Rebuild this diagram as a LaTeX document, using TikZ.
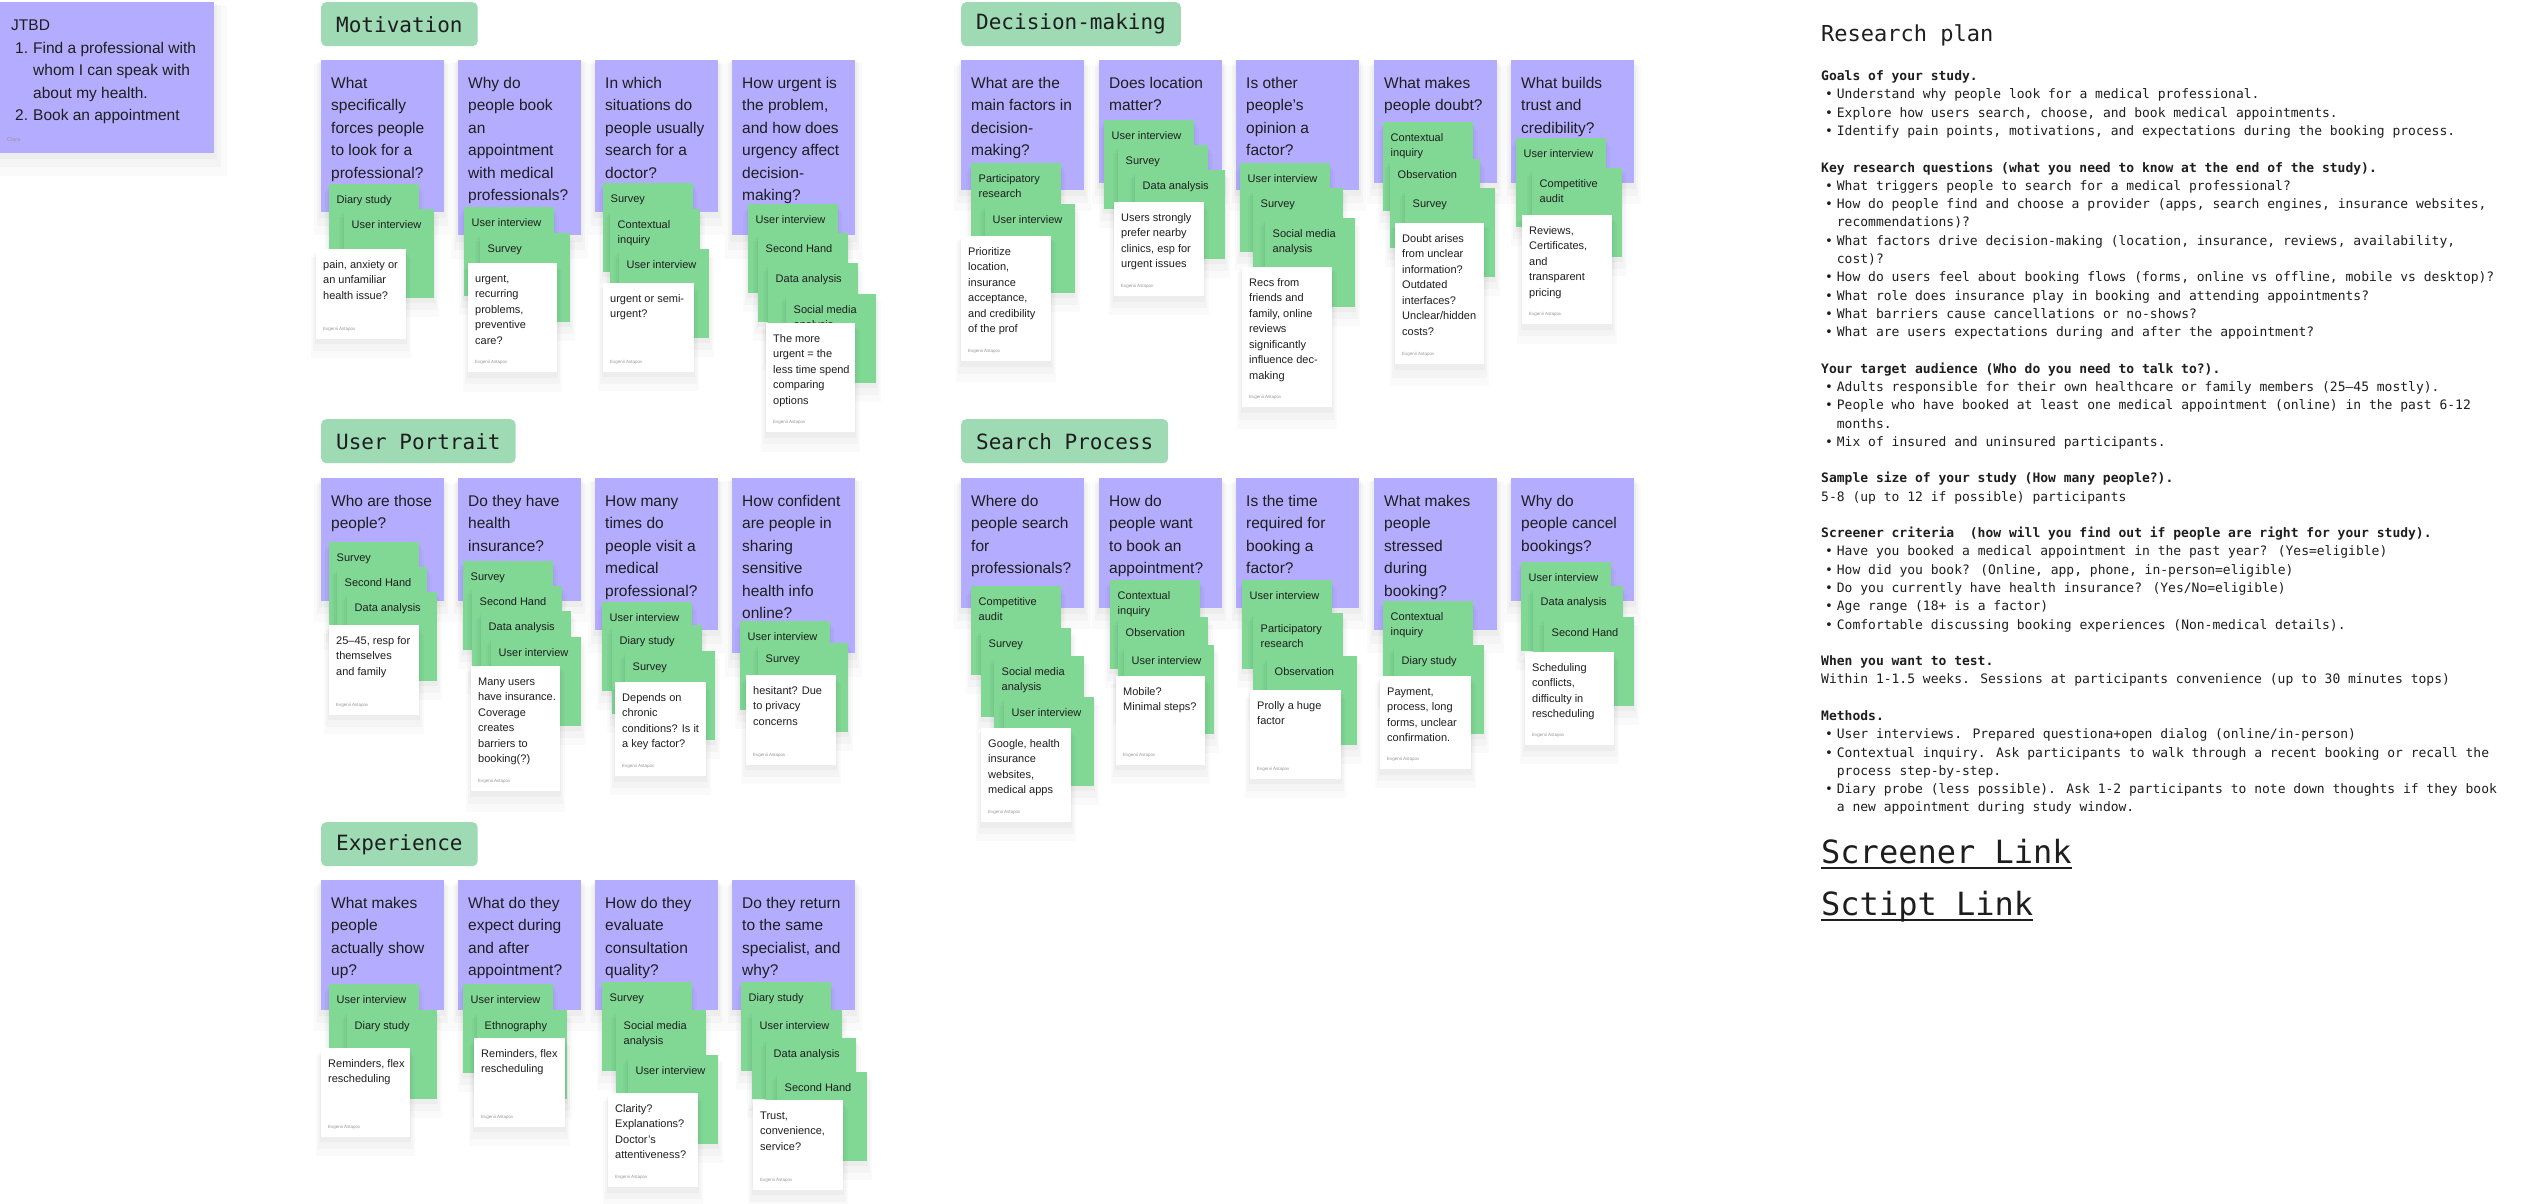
\documentclass[tikz,border=0pt]{standalone}
\usepackage{fontspec}
\setmainfont{Liberation Sans}
\newfontfamily\monof{DejaVu Sans Mono}
\usetikzlibrary{shadows}
\definecolor{qpurple}{RGB}{180,173,255}
\definecolor{mgreen}{RGB}{128,216,148}
\definecolor{hgreen}{RGB}{158,218,180}
\definecolor{ink}{RGB}{30,30,30}
\definecolor{authorgray}{RGB}{150,150,150}
\newcommand\rpb{\makebox[15.7pt][c]{•}}
\newcommand\rpi{\hspace*{15.7pt}}
\tikzset{
  soft/.style={general shadow={fill=black, opacity=0.018, shadow yshift=-12pt, shadow scale=1.12},
               general shadow={fill=black, opacity=0.022, shadow yshift=-8pt, shadow scale=1.07},
               general shadow={fill=black, opacity=0.028, shadow yshift=-4pt, shadow scale=1.03}},
  card/.style={rectangle, inner sep=0pt, outer sep=0pt, anchor=north west},
  qcard/.style={card, fill=qpurple, minimum width=123pt, soft},
  gcard/.style={card, fill=mgreen, minimum width=90pt, minimum height=89pt, soft},
  wcard/.style={card, fill=white, soft},
  ctext/.style={anchor=north west, inner sep=0pt, align=left, text=ink},
  qtext/.style={ctext, font=\fontsize{15.5}{22.5}\selectfont},
  gtext/.style={ctext, font=\fontsize{11}{15.4}\selectfont},
  wtext/.style={ctext, font=\fontsize{11}{15.5}\selectfont},
  author/.style={anchor=base west, inner sep=0pt, text=authorgray, font=\fontsize{4.5}{5}\selectfont},
  header/.style={anchor=north west, fill=hgreen, rounded corners=5pt, minimum height=44pt,
                 inner xsep=15pt, inner ysep=0pt, text=ink, font=\monof\fontsize{21}{25}\selectfont},
  rptext/.style={inner sep=0pt, text=ink, align=left},
}
% question card: name, x, y, height, text
\newcommand\mkq[5]{%
  \node[qcard, minimum height=#4pt] (#1) at (#2,#3) {};
  \node[qtext] (#1t) at ([xshift=10pt,yshift=-12.25pt]#1.north west) {\strut #5};}
% method card: name, x, y, text
\newcommand\mkg[4]{%
  \node[gcard] (#1) at (#2,#3) {};
  \node[gtext] (#1t) at ([xshift=7.5pt,yshift=-8.2pt]#1.north west) {\strut #4};}
% answer card: name, x, y, w, h, text
\newcommand\mkw[6]{%
  \node[wcard, minimum width=#4pt, minimum height=#5pt] (#1) at (#2,#3) {};
  \node[wtext] (#1t) at ([xshift=7pt,yshift=-8.2pt]#1.north west) {\strut #6};
  \node[author] (#1a) at ([xshift=7pt,yshift=9pt]#1.south west) {Evgenii Astapov};}
\begin{document}
\begin{tikzpicture}[x=1pt,y=-1pt]
\fill[white] (0,0) rectangle (2541,1203);
\useasboundingbox (0,0) rectangle (2541,1203);

% JTBD
\node[qcard, minimum width=214pt, minimum height=151pt] (jtbd) at (0,2) {};
\node[qtext] (jtbdt) at ([xshift=11pt,yshift=-13pt]jtbd.north west) {\strut JTBD\\\hspace*{4pt}\makebox[18pt][l]{1.}Find a professional with\\\hspace*{22pt}whom I can speak with\\\hspace*{22pt}about my health.\\\hspace*{4pt}\makebox[18pt][l]{2.}Book an appointment};
\node[author, font=\fontsize{5.5}{6}\selectfont] (jtbda) at ([xshift=7pt,yshift=12pt]jtbd.south west) {Clara};

% headers
\node[header] (hmot) at (321,2) {Motivation};
\node[header] (hdec) at (961,2) {Decision-making};
\node[header] (hup) at (321,419) {User Portrait};
\node[header] (hsp) at (961,419) {Search Process};
\node[header] (hexp) at (321,822) {Experience};

% Motivation
\mkq{m1}{321}{60}{152}{What\\specifically\\forces people\\to look for a\\professional?}
\mkg{m1a}{329}{184}{Diary study}
\mkg{m1b}{344}{209}{User interview}
\mkw{m1w}{316}{249}{90}{90}{pain, anxiety or\\an unfamiliar\\health issue?}

\mkq{m2}{458}{60}{175}{Why do\\people book\\an\\appointment\\with medical\\professionals?}
\mkg{m2a}{464}{207}{User interview}
\mkg{m2b}{480}{233}{Survey}
\mkw{m2w}{468}{263}{89}{109}{urgent,\\recurring\\problems,\\preventive\\care?}

\mkq{m3}{595}{60}{152}{In which\\situations do\\people usually\\search for a\\doctor?}
\mkg{m3a}{603}{183}{Survey}
\mkg{m3b}{610}{209}{Contextual\\inquiry}
\mkg{m3c}{619}{249}{User interview}
\mkw{m3w}{603}{283}{91}{89}{urgent or semi-\\urgent?}

\mkq{m4}{732}{60}{175}{How urgent is\\the problem,\\and how does\\urgency affect\\decision-\\making?}
\mkg{m4a}{748}{204}{User interview}
\mkg{m4b}{758}{233}{Second Hand}
\mkg{m4c}{768}{263}{Data analysis}
\mkg{m4d}{786}{294}{Social media\\analysis}
\mkw{m4w}{766}{323}{89}{109}{The more\\urgent = the\\less time spend\\comparing\\options}

% Decision-making
\mkq{d1}{961}{60}{130}{What are the\\main factors in\\decision-\\making?}
\mkg{d1a}{971}{163}{Participatory\\research}
\mkg{d1b}{985}{204}{User interview}
\mkw{d1w}{961}{236}{90}{125}{Prioritize\\location,\\insurance\\acceptance,\\and credibility\\of the prof}

\mkq{d2}{1099}{60}{123}{Does location\\matter?}
\mkg{d2a}{1104}{120}{User interview}
\mkg{d2b}{1118}{145}{Survey}
\mkg{d2c}{1135}{170}{Data analysis}
\mkw{d2w}{1114}{202}{90}{94}{Users strongly\\prefer nearby\\clinics, esp for\\urgent issues}

\mkq{d3}{1236}{60}{130}{Is other\\people’s\\opinion a\\factor?}
\mkg{d3a}{1240}{163}{User interview}
\mkg{d3b}{1253}{188}{Survey}
\mkg{d3c}{1265}{218}{Social media\\analysis}
\mkw{d3w}{1242}{267}{90}{140}{Recs from\\friends and\\family, online\\reviews\\significantly\\influence dec-\\making}

\mkq{d4}{1374}{60}{123}{What makes\\people doubt?}
\mkg{d4a}{1383}{122}{Contextual\\inquiry}
\mkg{d4b}{1390}{159}{Observation}
\mkg{d4c}{1405}{188}{Survey}
\mkw{d4w}{1395}{223}{89}{141}{Doubt arises\\from unclear\\information?\\Outdated\\interfaces?\\Unclear/hidden\\costs?}

\mkq{d5}{1511}{60}{123}{What builds\\trust and\\credibility?}
\mkg{d5a}{1516}{138}{User interview}
\mkg{d5b}{1532}{168}{Competitive\\audit}
\mkw{d5w}{1522}{215}{90}{109}{Reviews,\\Certificates,\\and\\transparent\\pricing}

% User Portrait
\mkq{u1}{321}{478}{123}{Who are those\\people?}
\mkg{u1a}{329}{542}{Survey}
\mkg{u1b}{337}{567}{Second Hand}
\mkg{u1c}{347}{592}{Data analysis}
\mkw{u1w}{329}{625}{90}{90}{25–45, resp for\\themselves\\and family}

\mkq{u2}{458}{478}{123}{Do they have\\health\\insurance?}
\mkg{u2a}{463}{561}{Survey}
\mkg{u2b}{472}{586}{Second Hand}
\mkg{u2c}{481}{611}{Data analysis}
\mkg{u2d}{491}{637}{User interview}
\mkw{u2w}{471}{666}{89}{125}{Many users\\have insurance.\\Coverage\\creates\\barriers to\\booking(?)}

\mkq{u3}{595}{478}{152}{How many\\times do\\people visit a\\medical\\professional?}
\mkg{u3a}{602}{602}{User interview}
\mkg{u3b}{612}{625}{Diary study}
\mkg{u3c}{625}{651}{Survey}
\mkw{u3w}{615}{682}{91}{94}{Depends on\\chronic\\conditions? Is it\\a key factor?}

\mkq{u4}{732}{478}{175}{How confident\\are people in\\sharing\\sensitive\\health info\\online?}
\mkg{u4a}{740}{621}{User interview}
\mkg{u4b}{758}{643}{Survey}
\mkw{u4w}{746}{675}{90}{90}{hesitant? Due\\to privacy\\concerns}

% Search Process
\mkq{s1}{961}{478}{130}{Where do\\people search\\for\\professionals?}
\mkg{s1a}{971}{586}{Competitive\\audit}
\mkg{s1b}{981}{628}{Survey}
\mkg{s1c}{994}{656}{Social media\\analysis}
\mkg{s1d}{1004}{697}{User interview}
\mkw{s1w}{981}{728}{90}{94}{Google, health\\insurance\\websites,\\medical apps}

\mkq{s2}{1099}{478}{130}{How do\\people want\\to book an\\appointment?}
\mkg{s2a}{1110}{580}{Contextual\\inquiry}
\mkg{s2b}{1118}{617}{Observation}
\mkg{s2c}{1124}{645}{User interview}
\mkw{s2w}{1116}{676}{89}{89}{Mobile?\\Minimal steps?}

\mkq{s3}{1236}{478}{130}{Is the time\\required for\\booking a\\factor?}
\mkg{s3a}{1242}{580}{User interview}
\mkg{s3b}{1253}{613}{Participatory\\research}
\mkg{s3c}{1267}{656}{Observation}
\mkw{s3w}{1250}{690}{91}{89}{Prolly a huge\\factor}

\mkq{s4}{1374}{478}{152}{What makes\\people\\stressed\\during\\booking?}
\mkg{s4a}{1383}{601}{Contextual\\inquiry}
\mkg{s4b}{1394}{645}{Diary study}
\mkw{s4w}{1380}{676}{91}{93}{Payment,\\process, long\\forms, unclear\\confirmation.}

\mkq{s5}{1511}{478}{123}{Why do\\people cancel\\bookings?}
\mkg{s5a}{1521}{562}{User interview}
\mkg{s5b}{1533}{586}{Data analysis}
\mkg{s5c}{1544}{617}{Second Hand}
\mkw{s5w}{1525}{652}{89}{93}{Scheduling\\conflicts,\\difficulty in\\rescheduling}

% Experience
\mkq{e1}{321}{880}{130}{What makes\\people\\actually show\\up?}
\mkg{e1a}{329}{984}{User interview}
\mkg{e1b}{347}{1010}{Diary study}
\mkw{e1w}{321}{1048}{89}{89}{Reminders, flex\\rescheduling}

\mkq{e2}{458}{880}{130}{What do they\\expect during\\and after\\appointment?}
\mkg{e2a}{463}{984}{User interview}
\mkg{e2b}{477}{1010}{Ethnography}
\mkw{e2w}{474}{1038}{91}{89}{Reminders, flex\\rescheduling}

\mkq{e3}{595}{880}{130}{How do they\\evaluate\\consultation\\quality?}
\mkg{e3a}{602}{982}{Survey}
\mkg{e3b}{616}{1010}{Social media\\analysis}
\mkg{e3c}{628}{1055}{User interview}
\mkw{e3w}{608}{1093}{90}{94}{Clarity?\\Explanations?\\Doctor’s\\attentiveness?}

\mkq{e4}{732}{880}{130}{Do they return\\to the same\\specialist, and\\why?}
\mkg{e4a}{741}{982}{Diary study}
\mkg{e4b}{752}{1010}{User interview}
\mkg{e4c}{766}{1038}{Data analysis}
\mkg{e4d}{777}{1072}{Second Hand}
\mkw{e4w}{753}{1100}{90}{90}{Trust,\\convenience,\\service?}

% Research plan
\node[rptext, anchor=base west, font=\monof\fontsize{22}{26}\selectfont] (rptitle) at (1821,41) {Research plan};
\node[rptext, anchor=north west, font=\monof\fontsize{13}{18.28}\selectfont] (rpbody) at (1821,67.7) {\strut\textbf{Goals of your study.}\\
\rpb Understand why people look for a medical professional.\\
\rpb Explore how users search, choose, and book medical appointments.\\
\rpb Identify pain points, motivations, and expectations during the booking process.\\[18.28pt]
\textbf{Key research questions (what you need to know at the end of the study).}\\
\rpb What triggers people to search for a medical professional?\\
\rpb How do people find and choose a provider (apps, search engines, insurance websites,\\
\rpi recommendations)?\\
\rpb What factors drive decision-making (location, insurance, reviews, availability,\\
\rpi cost)?\\
\rpb How do users feel about booking flows (forms, online vs offline, mobile vs desktop)?\\
\rpb What role does insurance play in booking and attending appointments?\\
\rpb What barriers cause cancellations or no-shows?\\
\rpb What are users expectations during and after the appointment?\\[18.28pt]
\textbf{Your target audience (Who do you need to talk to?).}\\
\rpb Adults responsible for their own healthcare or family members (25–45 mostly).\\
\rpb People who have booked at least one medical appointment (online) in the past 6-12\\
\rpi months.\\
\rpb Mix of insured and uninsured participants.\\[18.28pt]
\textbf{Sample size of your study (How many people?).}\\
5-8 (up to 12 if possible) participants\\[18.28pt]
\textbf{Screener criteria\ \ (how will you find out if people are right for your study).}\\
\rpb Have you booked a medical appointment in the past year? (Yes=eligible)\\
\rpb How did you book? (Online, app, phone, in-person=eligible)\\
\rpb Do you currently have health insurance? (Yes/No=eligible)\\
\rpb Age range (18+ is a factor)\\
\rpb Comfortable discussing booking experiences (Non-medical details).\\[18.28pt]
\textbf{When you want to test.}\\
Within 1-1.5 weeks. Sessions at participants convenience (up to 30 minutes tops)\\[18.28pt]
\textbf{Methods.}\\
\rpb User interviews. Prepared questiona+open dialog (online/in-person)\\
\rpb Contextual inquiry. Ask participants to walk through a recent booking or recall the\\
\rpi process step-by-step.\\
\rpb Diary probe (less possible). Ask 1-2 participants to note down thoughts if they book\\
\rpi a new appointment during study window.};
\node[rptext, anchor=base west, font=\monof\fontsize{32}{36}\selectfont] (scr) at (1821,863) {Screener Link};
\draw[ink, line width=2pt] ([yshift=-4.5pt]scr.base west) -- ([yshift=-4.5pt]scr.base east);
\node[rptext, anchor=base west, font=\monof\fontsize{32}{36}\selectfont] (scl) at (1821,915) {Sctipt Link};
\draw[ink, line width=2pt] ([yshift=-4.5pt]scl.base west) -- ([yshift=-4.5pt]scl.base east);
\end{tikzpicture}
\end{document}
